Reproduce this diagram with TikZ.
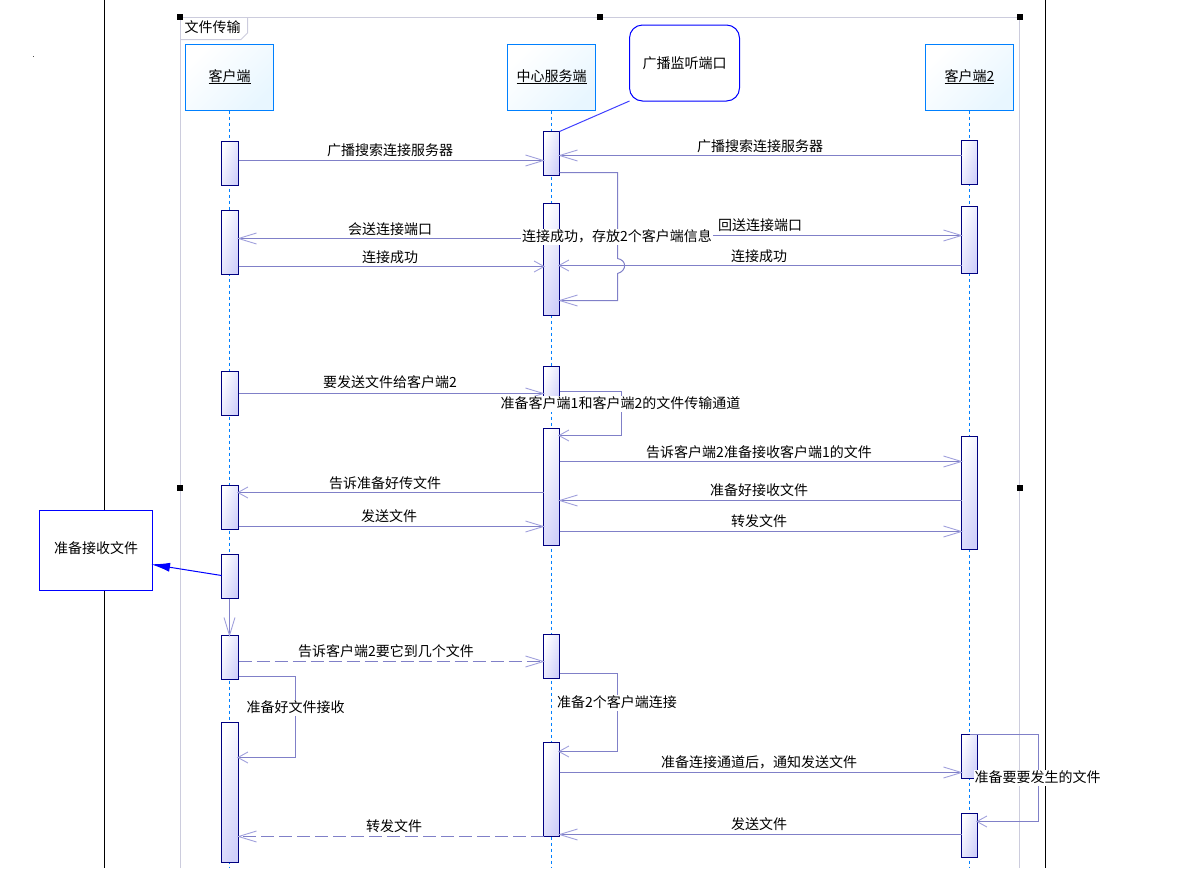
\documentclass[tikz,border=0pt]{standalone}
\usepackage{fontspec}
\setmainfont{Noto Sans CJK SC}
\usetikzlibrary{arrows.meta}

\definecolor{lifeblue}{HTML}{0080FF}
\definecolor{boxfill}{HTML}{E8F6FF}
\definecolor{barline}{HTML}{000080}
\definecolor{barfill}{HTML}{CFCFFA}
\definecolor{msgline}{HTML}{8080C8}
\definecolor{msgtip}{HTML}{A0A0DC}
\definecolor{frameline}{HTML}{CCCCDD}
\definecolor{noteblue}{HTML}{0000FF}

\tikzset{
  txt/.style={font=\fontsize{14}{16}\selectfont, text=black, inner sep=0pt, text height=11.5pt, text depth=2.5pt},
  lbl/.style={txt, yshift=-1.5pt},
  lblw/.style={txt, fill=white, inner xsep=1pt, inner ysep=1pt, yshift=-1.5pt},
  actor/.style={txt, draw=lifeblue, line width=1pt, outer sep=0pt, minimum width=88pt, minimum height=66pt,
    top color=white, bottom color=boxfill, shading angle=45},
  bar/.style={draw=barline, line width=1pt, outer sep=0pt, inner sep=0pt, anchor=north, minimum width=16pt, minimum height=#1,
    top color=white, bottom color=barfill, shading angle=72},
  cbar/.style={bar=#1, minimum width=17pt},
  life/.style={draw=lifeblue, line width=0.8pt, dash pattern=on 3pt off 3pt},
  msg/.style={draw=msgline, line width=1pt, shorten >=-1.5pt, -{Straight Barb[length=18pt,width=11pt,color=msgtip,line width=0.9pt]}},
  msgs/.style={draw=msgline, line width=1pt, shorten >=-1.5pt, -{Straight Barb[length=10pt,width=11pt,color=msgtip,line width=0.9pt]}},
  msgdash/.style={dash pattern=on 13pt off 5pt},
  handle/.style={fill=black, inner sep=0pt, minimum size=6pt},
  note/.style={txt, draw=noteblue, fill=white, line width=1pt, outer sep=0pt},
}

\begin{document}
\begin{tikzpicture}[x=1pt, y=-1pt]
\useasboundingbox (0,0) rectangle (1200,868);

% page lines and the frame
\fill[black!70] (32.5,55.5) rectangle (34,57);
\draw[line width=1pt] (104.5,0) -- (104.5,868);
\draw[line width=1pt] (1045.5,0) -- (1045.5,868);
\draw[frameline, line width=1pt] (180.5,868) -- (180.5,17.5) -- (1019.5,17.5) -- (1019.5,868);
\draw[frameline, line width=1pt] (180.5,39.5) -- (241,39.5) -- (247.5,33) -- (247.5,17.5);
\node[lbl, anchor=west] (title) at (184.5,26.5) {文件传输};
\node[handle] (h1) at (180,17) {};
\node[handle] (h2) at (600,17) {};
\node[handle] (h3) at (1020,17) {};
\node[handle] (h4) at (180,488) {};
\node[handle] (h5) at (1020,488) {};

% the three lifelines
\node[actor] (cli) at (229.5,77.5) {\raisebox{1pt}{\underline{客户端}}};
\node[actor] (srv) at (551.5,77.5) {\raisebox{1pt}{\underline{中心服务端}}};
\node[actor] (cli2) at (969.5,77.5) {\raisebox{1pt}{\underline{客户端2}}};
\coordinate (cliend) at (229.5,868);
\coordinate (srvend) at (551.5,868);
\coordinate (cli2end) at (969.5,868);
\draw[life] (cli.south) -- (cliend);
\draw[life] (srv.south) -- (srvend);
\draw[life] (cli2.south) -- (cli2end);

% activation bars
\node[cbar=44pt] (c1) at (230,141.5) {};
\node[cbar=64pt] (c2) at (230,210.5) {};
\node[cbar=44pt] (c3) at (230,371.5) {};
\node[cbar=44pt] (c4) at (230,485.5) {};
\node[cbar=44pt] (c5) at (230,554.5) {};
\node[cbar=44pt] (c6) at (230,635.5) {};
\node[cbar=140pt] (c7) at (230,722.5) {};

\node[bar=44pt] (s1) at (551.5,131.5) {};
\node[bar=112pt] (s2) at (551.5,203.5) {};
\node[bar=44pt] (s3) at (551.5,366.5) {};
\node[bar=117pt] (s4) at (551.5,428.5) {};
\node[bar=44pt] (s5) at (551.5,634.5) {};
\node[bar=94pt] (s6) at (551.5,742.5) {};

\node[bar=44pt] (d1) at (969.5,140.5) {};
\node[bar=67pt] (d2) at (969.5,206.5) {};
\node[bar=113pt] (d3) at (969.5,436.5) {};
\node[bar=44pt] (d4) at (969.5,734.5) {};
\node[bar=44pt] (d5) at (969.5,813.5) {};

% connection phase
\draw[msg] (c1.east |- 0,160.5) -- (s1.west |- 0,160.5);
\draw[msg] (d1.west |- 0,155.5) -- (s1.east |- 0,155.5);
\draw[msg] (s2.west |- 0,238.5) -- (c2.east |- 0,238.5);
\draw[msgs] (c2.east |- 0,266.5) -- (s2.west |- 0,266.5);
\draw[msg] (s2.east |- 0,235.5) -- (d2.west |- 0,235.5);
\draw[msgs] (d2.west |- 0,265.5) -- (s2.east |- 0,265.5);
\draw[msg] (s1.east |- 0,172.5) -- (617.5,172.5) -- (617.5,258.5) .. controls (627,260) and (627,271) .. (617.5,273.5) -- (617.5,300.5) -- (s2.east |- 0,300.5);

% transfer phase
\draw[msg] (c3.east |- 0,393.5) -- (s3.west |- 0,393.5);
\draw[msgs] (s3.east |- 0,391.5) -- (621.5,391.5) -- (621.5,435.5) -- (s4.east |- 0,435.5);
\draw[msg] (s4.east |- 0,461.5) -- (d3.west |- 0,461.5);
\draw[msgs] (s4.west |- 0,492.5) -- (c4.east |- 0,492.5);
\draw[msg] (d3.west |- 0,500.5) -- (s4.east |- 0,500.5);
\draw[msg] (c4.east |- 0,526.5) -- (s4.west |- 0,526.5);
\draw[msg] (s4.east |- 0,531.5) -- (d3.west |- 0,531.5);
\draw[msg] (c5.south -| cli.south) -- (c6.north -| cli.south);

% last phase
\draw[msg, msgdash] (c6.east |- 0,661.5) -- (s5.west |- 0,661.5);
\draw[msgs] (c6.east |- 0,676.5) -- (295.5,676.5) -- (295.5,757.5) -- (c7.east |- 0,757.5);
\draw[msgs] (s5.east |- 0,673.5) -- (617.5,673.5) -- (617.5,751.5) -- (s6.east |- 0,751.5);
\draw[msg] (s6.east |- 0,772.5) -- (d4.west |- 0,772.5);
\draw[msgs] (d4.north) -- (1038.5,734.5) -- (1038.5,821.5) -- (d5.east |- 0,821.5);
\draw[msg] (d5.west |- 0,834.5) -- (s6.east |- 0,834.5);
\draw[msg, msgdash] (s6.west |- 0,836.5) -- (c7.east |- 0,836.5);

% message texts
\node[lbl] (m1) at (390,149) {广播搜索连接服务器};
\node[lbl] (m2) at (760,145) {广播搜索连接服务器};
\node[lbl] (m3) at (390,228) {会送连接端口};
\node[lbl] (m4) at (390,256) {连接成功};
\node[lbl] (m5) at (760,224) {回送连接端口};
\node[lbl] (m6) at (759,255) {连接成功};
\node[lblw] (m7) at (617,235) {连接成功，存放2个客户端信息};
\node[lbl] (m8) at (390,381) {要发送文件给客户端2};
\node[lblw] (m9) at (620.5,402) {准备客户端1和客户端2的文件传输通道};
\node[lbl] (m10) at (759,451) {告诉客户端2准备接收客户端1的文件};
\node[lbl] (m11) at (385,482) {告诉准备好传文件};
\node[lbl] (m12) at (759,489) {准备好接收文件};
\node[lbl] (m13) at (389,515) {发送文件};
\node[lbl] (m14) at (759,520) {转发文件};
\node[lbl] (m15) at (386,650) {告诉客户端2要它到几个文件};
\node[lblw] (m16) at (295.5,706) {准备好文件接收};
\node[lblw] (m17) at (617,701) {准备2个客户端连接};
\node[lbl] (m18) at (759,761) {准备连接通道后，通知发送文件};
\node[lblw] (m19) at (1037.5,776) {准备要要发生的文件};
\node[lbl] (m20) at (759,823) {发送文件};
\node[lbl] (m21) at (394,825) {转发文件};

% the two notes
\node[note, rounded corners=13pt, minimum width=110pt, minimum height=76pt] (port) at (684.5,63) {\raisebox{-1pt}{广播监听端口}};
\node[note, minimum width=113pt, minimum height=80pt] (recv) at (96,550.5) {\raisebox{2pt}{准备接收文件}};
\draw[draw=noteblue!75!white, line width=1pt] (s1.north east) -- (port.south west);
\draw[draw=noteblue, line width=1pt, shorten >=-1.5pt, -{Latex[length=19pt,width=9pt]}] (c5.west |- 0,575.5) -- (recv.east |- 0,564.5);
\end{tikzpicture}
\end{document}
